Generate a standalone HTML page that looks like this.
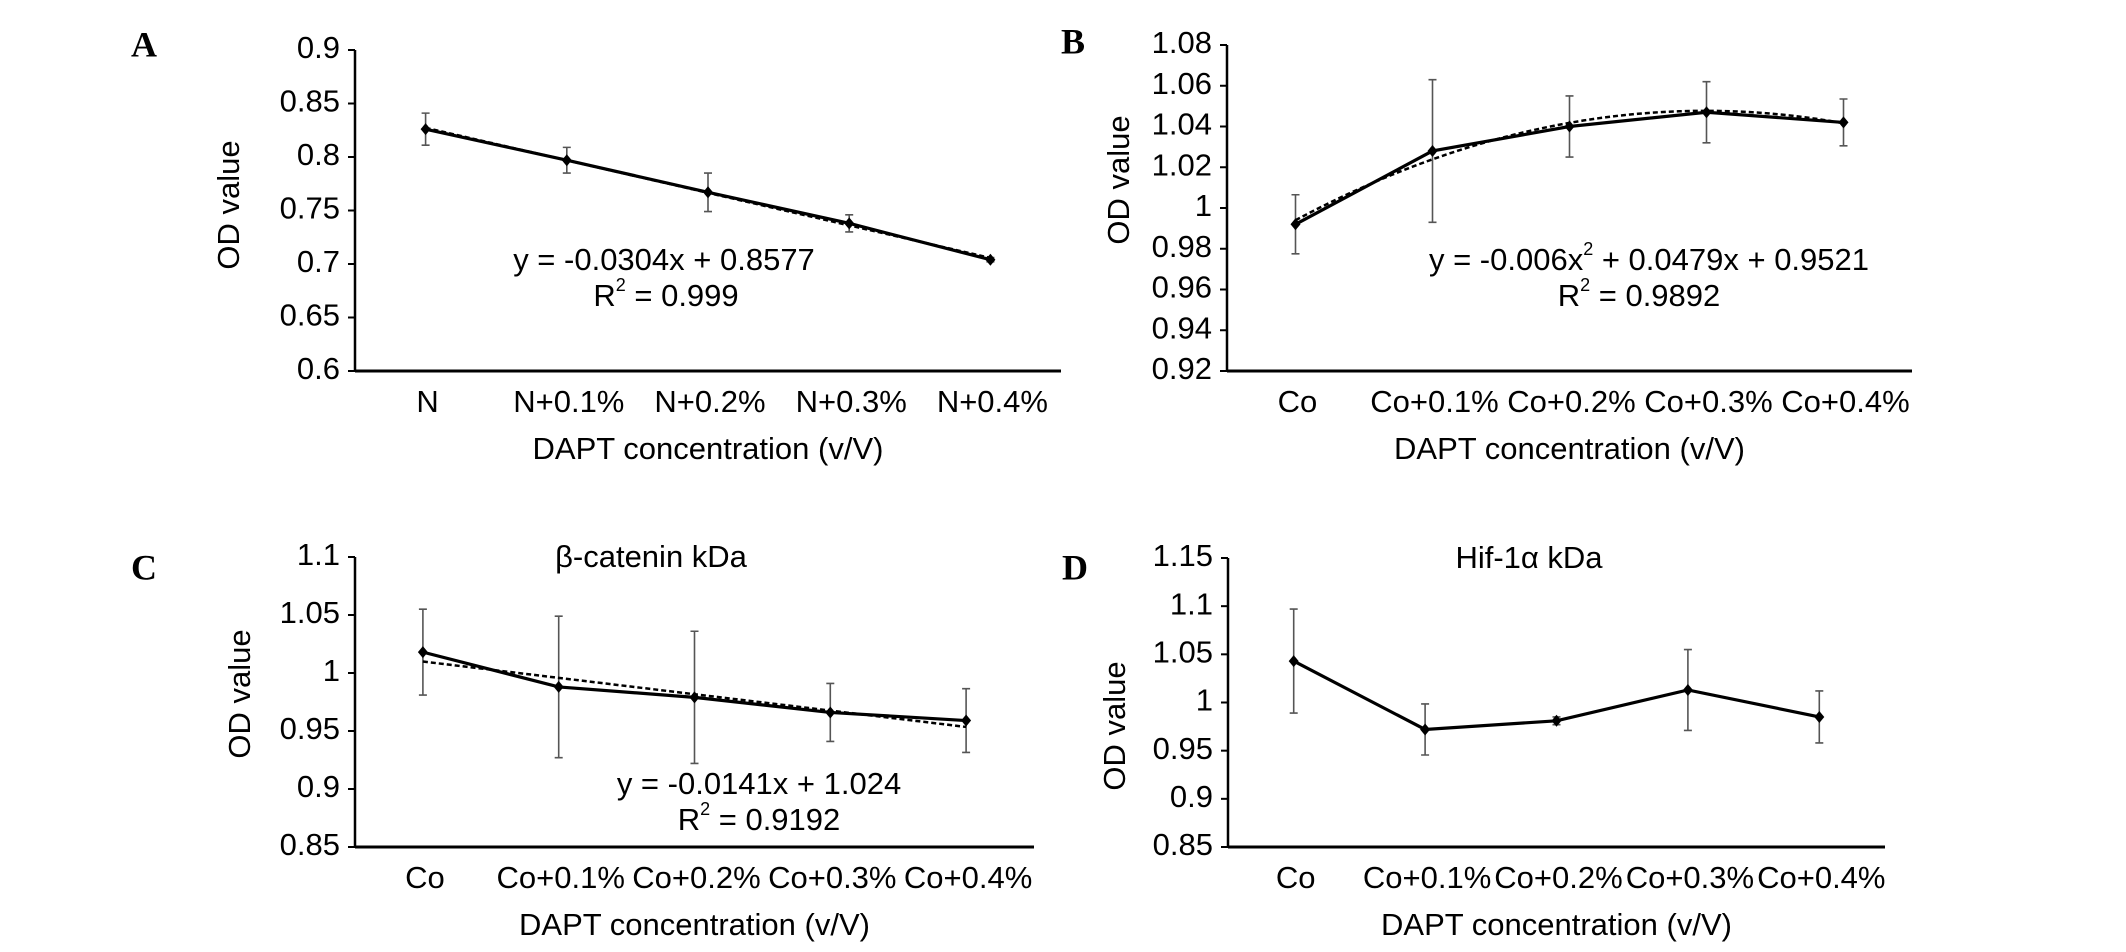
<!DOCTYPE html>
<html><head><meta charset="utf-8"><style>
html,body{margin:0;padding:0;background:#fff;}
svg{display:block;font-family:"Liberation Sans",Arial,sans-serif;}
</style></head><body>
<svg id="fig" width="2126" height="952" viewBox="0 0 2126 952"></svg>
<script>
const catsA = ["N","N+0.1%","N+0.2%","N+0.3%","N+0.4%"];
const catsCo = ["Co","Co+0.1%","Co+0.2%","Co+0.3%","Co+0.4%"];
const valuesA = [0.826,0.797,0.767,0.738,0.704];
const errorsA = [0.015,0.012,0.018,0.008,0.002];
const trendA = [-0.0304,0.8577];
const ticksA = ["0.6","0.65","0.7","0.75","0.8","0.85","0.9"];
const valuesB = [0.992,1.028,1.040,1.047,1.042];
const errorsB = [0.0145,0.035,0.015,0.015,0.0115];
const trendB = [-0.006,0.0479,0.9521];
const ticksB = ["0.92","0.94","0.96","0.98","1","1.02","1.04","1.06","1.08"];
const valuesC = [1.018,0.988,0.979,0.966,0.959];
const errorsC = [0.037,0.061,0.057,0.025,0.0275];
const trendC = [-0.0141,1.024];
const ticksC = ["0.85","0.9","0.95","1","1.05","1.1"];
const valuesD = [1.043,0.972,0.981,1.013,0.985];
const errorsD = [0.054,0.0265,0.004,0.042,0.027];
const ticksD = ["0.85","0.9","0.95","1","1.05","1.1","1.15"];

const NS="http://www.w3.org/2000/svg";
const svg=document.getElementById('fig');
function mk(tag,attrs,parent,text){const e=document.createElementNS(NS,tag);for(const k in attrs)e.setAttribute(k,attrs[k]);if(text!==undefined)e.textContent=text;(parent||svg).appendChild(e);return e;}

function chart(o){
  const g=mk('g',{});
  
  
  const ymin=parseFloat(o.ticks[0]), ymax=parseFloat(o.ticks[o.ticks.length-1]);
  const y=v=>o.bottom-(v-ymin)/(ymax-ymin)*(o.bottom-o.top);
  const step=(o.right-o.left)/o.cats.length;
  const x=i=>o.left+step*(i+0.5);
  // panel letter
  const L=mk('text',{x:o.letterX,y:o.letterY,'font-family':'"Liberation Serif",serif','font-weight':'bold','font-size':36,'dominant-baseline':'middle','text-anchor':'middle'},g,o.letter);
  
  
  // axes
  const ya=mk('line',{x1:o.left,y1:o.top,x2:o.left,y2:o.bottom,stroke:'#000','stroke-width':2.5},g);
  
  
  const xa=mk('line',{x1:o.left,y1:o.bottom,x2:o.right,y2:o.bottom,stroke:'#000','stroke-width':3},g);
  
  
  o.ticks.forEach(t=>{
    const v=parseFloat(t);
    mk('line',{x1:o.left-7,y1:y(v),x2:o.left,y2:y(v),stroke:'#000','stroke-width':2},g);
    const tl=mk('text',{x:o.left-15,y:y(v),'font-size':31,'text-anchor':'end','dominant-baseline':'middle'},g,t);
    
    
  });
  o.cats.forEach((c,i)=>{
    const tl=mk('text',{x:x(i)+2,y:o.bottom+33,'font-size':31,'text-anchor':'middle','dominant-baseline':'middle'},g,c);
    
    
  });
  const xt=mk('text',{x:(o.left+o.right)/2,y:o.bottom+80,'font-size':31,'text-anchor':'middle','dominant-baseline':'middle'},g,'DAPT concentration (v/V)');
  
  
  const ty=o.odY;
  const yt=mk('text',{x:o.odX,y:ty,'font-size':31,'text-anchor':'middle','dominant-baseline':'middle',transform:`rotate(-90 ${o.odX} ${ty})`},g,'OD value');
  
  
  if(o.title){
    const tt=mk('text',{x:o.titleX,y:o.top+2,'font-size':31,'text-anchor':'middle','dominant-baseline':'middle'},g,o.title);
    
    
  }
  // error bars
  o.vals.forEach((v,i)=>{
    const e=o.errs[i];
    const eb=mk('path',{d:`M${x(i)},${y(v+e)}V${y(v-e)}M${x(i)-4},${y(v+e)}H${x(i)+4}M${x(i)-4},${y(v-e)}H${x(i)+4}`,stroke:'#555','stroke-width':1.6,fill:'none'},g);
    
    
  });
  // trend
  if(o.trend){
    let d='';
    for(let k=0;k<=40;k++){const xv=1+4*k/40;let yv=0;o.trend.forEach((c,j)=>{yv+=c*Math.pow(xv,o.trend.length-1-j);});
      const px=x(0)+(xv-1)*step;d+=(k?'L':'M')+px+','+y(yv);}
    const tr=mk('path',{d,stroke:'#000','stroke-width':2.5,fill:'none','stroke-dasharray':'5,3'},g);
    
    
  }
  const ln=mk('polyline',{points:o.vals.map((v,i)=>x(i)+','+y(v)).join(' '),stroke:'#000','stroke-width':3.2,fill:'none'},g);
  
  
  o.vals.forEach((v,i)=>{
    const m=mk('path',{d:`M${x(i)},${y(v)-6}L${x(i)+5},${y(v)}L${x(i)},${y(v)+6}L${x(i)-5},${y(v)}Z`,fill:'#000'},g);
    
    
  });
  if(o.eq){
    const e1=mk('text',{x:o.eqX,y:o.eqY,'font-size':31,'text-anchor':'middle','dominant-baseline':'middle'},g);
    e1.innerHTML=o.eq;
    
    
    const e2=mk('text',{x:o.r2X,y:o.eqY+36,'font-size':31,'text-anchor':'middle','dominant-baseline':'middle'},g);
    e2.innerHTML=o.r2;
    
    
  }
}
chart({id:'a',letter:'A',letterX:144,letterY:48,cats:catsA,vals:valuesA,errs:errorsA,trend:trendA,ticks:ticksA,left:355,right:1061,top:50,bottom:371,odX:231,odY:205,
  eq:'y = -0.0304x + 0.8577',eqX:664,eqY:262,r2:'R<tspan font-size="18" dy="-12">2</tspan><tspan dy="12"> = 0.999</tspan>',r2X:666});
chart({id:'b',letter:'B',letterX:1073,letterY:45,cats:catsCo,vals:valuesB,errs:errorsB,trend:trendB,ticks:ticksB,left:1227,right:1912,top:45,bottom:371,odX:1121,odY:180,
  eq:'y = -0.006x<tspan font-size="18" dy="-12">2</tspan><tspan dy="12"> + 0.0479x + 0.9521</tspan>',eqX:1649,eqY:262,r2:'R<tspan font-size="18" dy="-12">2</tspan><tspan dy="12"> = 0.9892</tspan>',r2X:1639});
chart({id:'c',letter:'C',letterX:144,letterY:571,cats:catsCo,vals:valuesC,errs:errorsC,trend:trendC,ticks:ticksC,left:355,right:1034,top:557,bottom:847,odX:242,odY:694,title:'β-catenin kDa',titleX:651,
  eq:'y = -0.0141x + 1.024',eqX:759,eqY:786,r2:'R<tspan font-size="18" dy="-12">2</tspan><tspan dy="12"> = 0.9192</tspan>',r2X:759});
chart({id:'d',letter:'D',letterX:1075,letterY:571,cats:catsCo,vals:valuesD,errs:errorsD,ticks:ticksD,left:1228,right:1885,top:558,bottom:847,odX:1117,odY:726,title:'Hif-1α kDa',titleX:1529});
</script>
</body></html>
